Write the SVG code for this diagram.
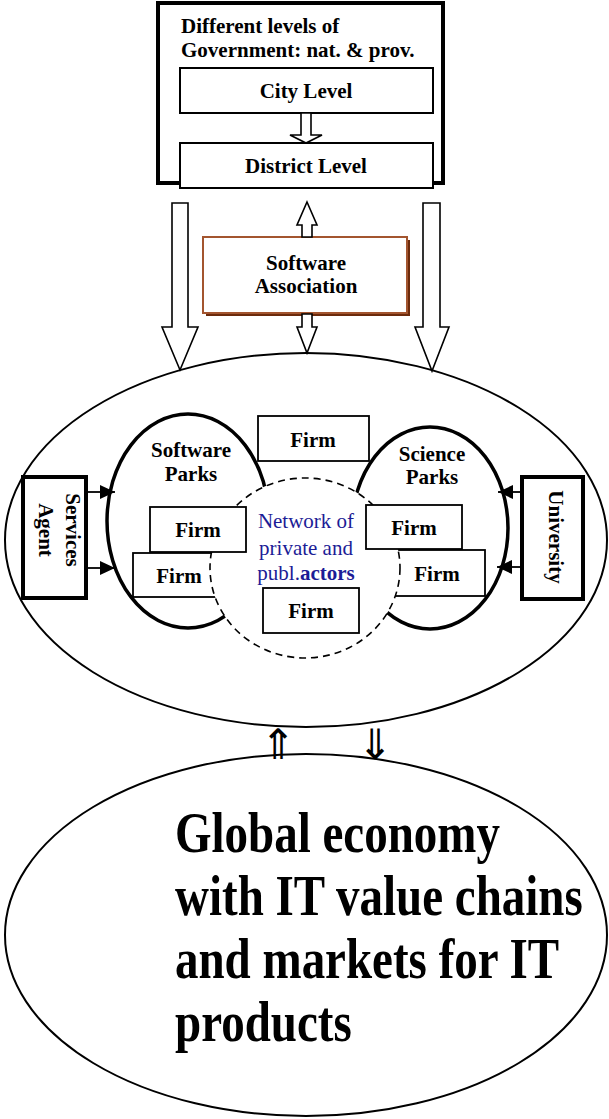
<svg xmlns="http://www.w3.org/2000/svg" width="609" height="1119" viewBox="0 0 609 1119">
<style>
text { font-family: "Liberation Serif", "Times New Roman", serif; }
.b { font-weight: bold; font-size: 21px; }
.c { text-anchor: middle; }
.box { fill: #fff; stroke: #000; stroke-width: 2; }
.thick { fill: #fff; stroke: #000; stroke-width: 4; }
.firm { fill: #fff; stroke: #000; stroke-width: 1.8; }
.hollow { fill: #fff; stroke: #000; stroke-width: 1.6; stroke-linejoin: miter; }
.park { fill: #fff; stroke: #000; stroke-width: 3.5; }
.oval { fill: #fff; stroke: #000; stroke-width: 2; }
.net { font-size: 21px; fill: #1c1c96; }
.big { font-weight: bold; font-size: 47px; }
.line { stroke: #000; stroke-width: 1.8; fill: none; }
.sym { font-family: "DejaVu Sans", sans-serif; font-size: 42px; }
</style>
<defs>
<marker id="ah" markerUnits="userSpaceOnUse" markerWidth="16" markerHeight="14" refX="15" refY="7" orient="auto"><path d="M0,0 L15,7 L0,14 z" fill="#000"/></marker>
</defs>

<g id="government">
<rect class="thick" x="158" y="3" width="285" height="180"/>
<text class="b" x="181" y="33">Different levels of</text>
<text class="b" x="181" y="57">Government: nat. &amp; prov.</text>
</g>
<g id="city-level">
<rect class="box" x="180" y="68" width="253" height="45"/>
<text class="b c" x="306" y="98">City Level</text>
</g>
<g id="district-level">
<rect class="box" x="180" y="143" width="253" height="45"/>
<text class="b c" x="306" y="173">District Level</text>
</g>

<g id="software-association">
<rect x="206" y="240" width="204" height="76" fill="#6b2a0c"/>
<rect x="203" y="237" width="204" height="76" fill="#fff" stroke="#a3552f" stroke-width="2"/>
<text class="b c" x="306" y="270">Software</text>
<text class="b c" x="306" y="293">Association</text>
</g>

<g id="cluster">
<ellipse class="oval" cx="306" cy="540" rx="301" ry="187"/>
</g>
<g id="software-parks">
<ellipse class="park" cx="188" cy="521" rx="81" ry="107"/>
<text class="b c" x="191" y="457">Software</text>
<text class="b c" x="191" y="481">Parks</text>
</g>
<g id="science-parks">
<ellipse class="park" cx="430" cy="528" rx="78" ry="101"/>
<text class="b c" x="432" y="461">Science</text>
<text class="b c" x="432" y="484">Parks</text>
</g>
<g id="firm-lower-left">
<rect class="firm" x="133" y="553" width="93" height="44"/>
<text class="b c" x="179" y="583">Firm</text>
</g>
<g id="firm-lower-right">
<rect class="firm" x="390" y="550" width="95" height="46"/>
<text class="b c" x="437" y="581">Firm</text>
</g>
<g id="network">
<ellipse cx="305" cy="568" rx="95" ry="90" fill="#fff" stroke="#000" stroke-width="1.6" stroke-dasharray="7,5"/>
<text class="net c" x="306" y="528">Network of</text>
<text class="net c" x="306" y="555">private and</text>
<text class="net c" x="306" y="580">publ.<tspan font-weight="bold">actors</tspan></text>
</g>
<g id="firm-top">
<rect class="firm" x="258" y="416" width="111" height="45"/>
<text class="b c" x="313" y="447">Firm</text>
</g>
<g id="firm-upper-left">
<rect class="firm" x="150" y="507" width="96" height="45"/>
<text class="b c" x="198" y="537">Firm</text>
</g>
<g id="firm-upper-right">
<rect class="firm" x="366" y="505" width="96" height="44"/>
<text class="b c" x="414" y="535">Firm</text>
</g>
<g id="firm-bottom">
<rect class="firm" x="263" y="588" width="96" height="45"/>
<text class="b c" x="311" y="618">Firm</text>
</g>

<g id="services-agent">
<rect class="thick" x="23" y="477" width="63" height="121"/>
<text class="b c" transform="translate(66,530) rotate(90)">Services</text>
<text class="b c" transform="translate(39,530) rotate(90)">Agent</text>
</g>
<g id="university">
<rect class="thick" x="522" y="477" width="61" height="122"/>
<text class="b c" transform="translate(549,537) rotate(90)">University</text>
</g>

<g id="global-economy">
<ellipse class="oval" cx="306" cy="935" rx="301" ry="181"/>
<text class="big" transform="translate(175,852) scale(1,1.22)">Global economy</text>
<text class="big" transform="translate(175,915) scale(1,1.22)">with IT value chains</text>
<text class="big" transform="translate(175,978) scale(1,1.22)">and markets for IT</text>
<text class="big" transform="translate(175,1041) scale(1,1.22)">products</text>
</g>

<g id="connectors">
<path class="hollow" d="M301,113 L311,113 L311,135 L322,135 L306,143 L290,135 L301,135 Z"/>
<path class="hollow" d="M172,203 L188,203 L188,327 L198,327 L180,370 L162,327 L172,327 Z"/>
<path class="hollow" d="M423,203 L440,203 L440,327 L449,327 L432,371 L415,327 L423,327 Z"/>
<path class="hollow" d="M307,202 L317,225 L312,225 L312,237 L302,237 L302,225 L297,225 Z"/>
<path class="hollow" d="M302,314 L312,314 L312,327 L317,327 L307,353 L297,327 L302,327 Z"/>
<line class="line" x1="86" y1="492" x2="115" y2="492" marker-end="url(#ah)"/>
<line class="line" x1="86" y1="568" x2="115" y2="568" marker-end="url(#ah)"/>
<line class="line" x1="522" y1="492" x2="498" y2="492" marker-end="url(#ah)"/>
<line class="line" x1="522" y1="567" x2="497" y2="567" marker-end="url(#ah)"/>
<text class="sym c" x="278" y="759">⇑</text>
<text class="sym c" x="375" y="759">⇓</text>
</g>
</svg>
